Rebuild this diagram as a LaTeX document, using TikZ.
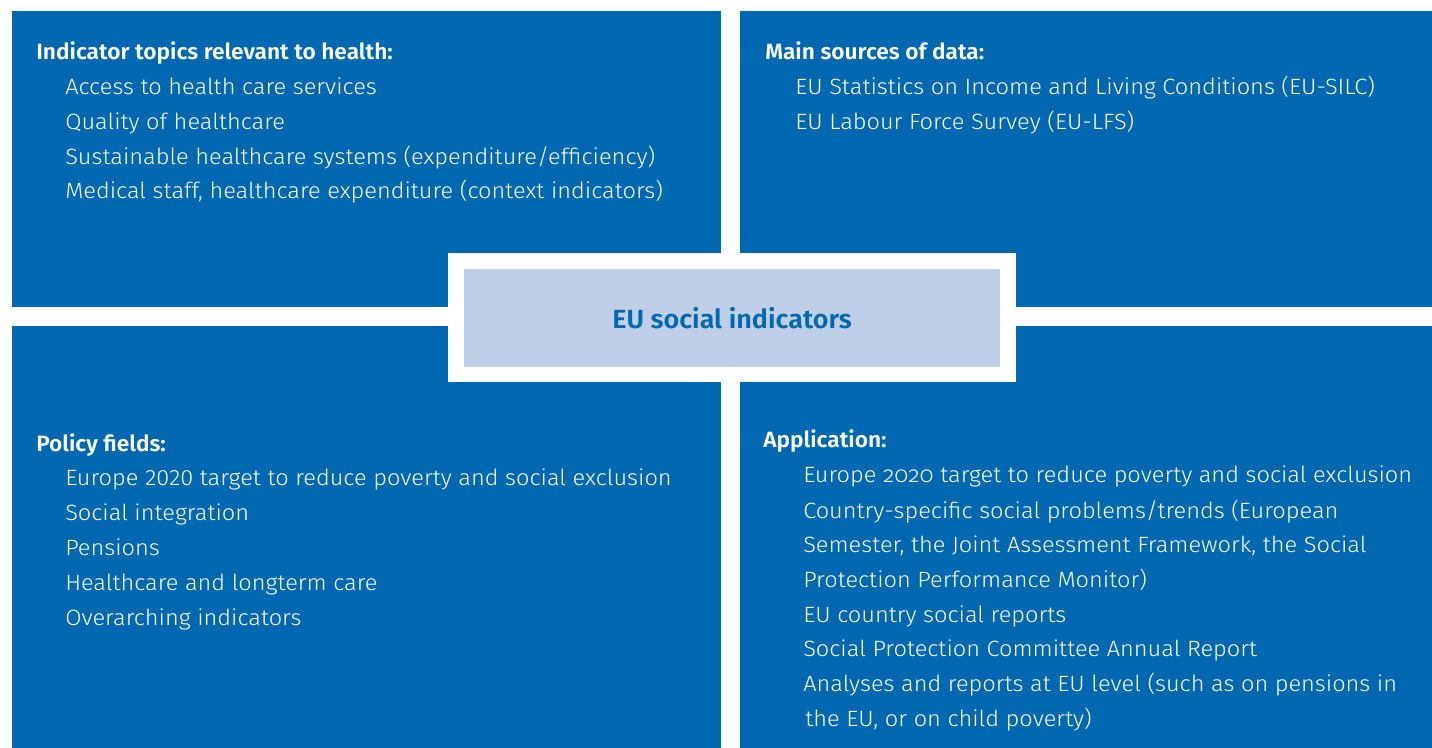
\documentclass[tikz,border=0pt]{standalone}
\usepackage{fontspec}
\setmainfont{Fira Sans Light}
\newfontfamily\bodyfont{Fira Sans Light}[FakeStretch=1.065]
\newfontfamily\oldnum{Fira Sans Light}[FakeStretch=1.065,Numbers=OldStyle]
\newfontfamily\headfont{Fira Sans SemiBold}[FakeStretch=1.025]
\definecolor{panelblue}{RGB}{0,104,176}
\definecolor{paleblue}{RGB}{191,207,232}
\begin{document}
\begin{tikzpicture}[x=0.75pt,y=-0.75pt,
  panel/.style={fill=panelblue,draw=none},
  head/.style={anchor=base west,inner sep=0pt,text=white,font=\headfont\fontsize{16.6}{19}\selectfont},
  item/.style={anchor=base west,inner sep=0pt,text=white,font=\bodyfont\fontsize{16.6}{19}\selectfont}]
  % page
  \fill[white] (0,0) rectangle (1432,748);
  \useasboundingbox (0,0) rectangle (1432,748);
  % four quadrants
  \fill[panel] (12,11) rectangle (721,307);
  \fill[panel] (740,11) rectangle (1432,307);
  \fill[panel] (12,326) rectangle (721,748);
  \fill[panel] (740,326) rectangle (1432,748);
  % central label with white frame
  \fill[white] (448,253) rectangle (1016,382);
  \node[fill=paleblue,minimum width=536*0.75pt,minimum height=98*0.75pt,inner sep=0pt,
        text=panelblue,font=\headfont\fontsize{19.7}{22}\selectfont] (core) at (732,318) {EU social indicators};

  % top left
  \node[head] (tlh) at (36,60) {Indicator topics relevant to health:};
  \node[item] (tl1) at (65,95) {Access to health care services};
  \node[item] (tl2) at (65,130) {Quality of healthcare};
  \node[item] (tl3) at (65,165) {Sustainable healthcare systems (expenditure/efficiency)};
  \node[item] (tl4) at (65,199) {Medical staff, healthcare expenditure (context indicators)};

  % top right
  \node[head] (trh) at (765,60) {Main sources of data:};
  \node[item] (tr1) at (795,95) {EU Statistics on Income and Living Conditions (EU-SILC)};
  \node[item] (tr2) at (795,130) {EU Labour Force Survey (EU-LFS)};

  % bottom left
  \node[head] (blh) at (36,452) {Policy fields:};
  \node[item] (bl1) at (65,486) {Europe 2020 target to reduce poverty and social exclusion};
  \node[item] (bl2) at (65,521) {Social integration};
  \node[item] (bl3) at (65,555) {Pensions};
  \node[item] (bl4) at (65,590) {Healthcare and longterm care};
  \node[item] (bl5) at (65,625) {Overarching indicators};

  % bottom right
  \node[head] (brh) at (763,448) {Application:};
  \node[item] (br1) at (803,483) {Europe {\oldnum 2020} target to reduce poverty and social exclusion};
  \node[item] (br2) at (803,518) {Country-specific social problems/trends (European};
  \node[item] (br2b) at (803,552) {Semester, the Joint Assessment Framework, the Social};
  \node[item] (br2c) at (803,587) {Protection Performance Monitor)};
  \node[item] (br3) at (803,622) {EU country social reports};
  \node[item] (br4) at (803,656) {Social Protection Committee Annual Report};
  \node[item] (br5) at (803,691) {Analyses and reports at EU level (such as on pensions in};
  \node[item] (br5b) at (805,726) {the EU, or on child poverty)};
\end{tikzpicture}
\end{document}
